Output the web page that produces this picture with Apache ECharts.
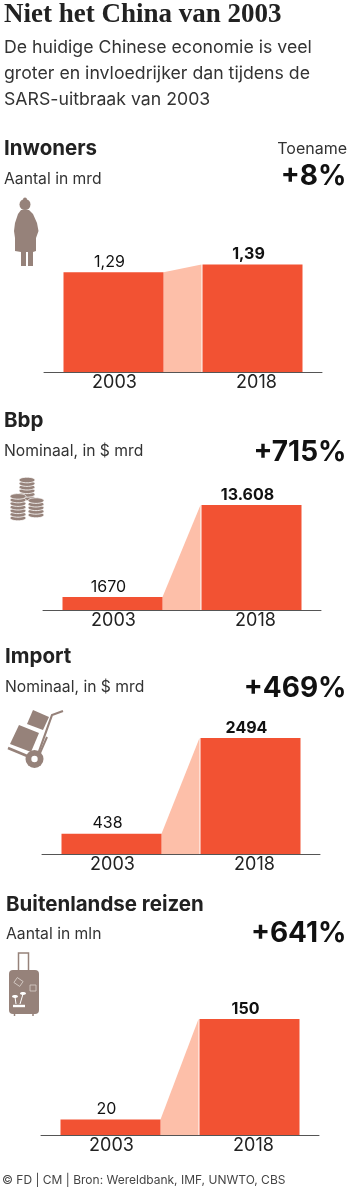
<!DOCTYPE html>
<html>
<head>
<meta charset="utf-8">
<style>
  html, body { margin: 0; padding: 0; background: #fff; }
  #chart { width: 360px; height: 1193px; }
</style>
<script src="https://cdn.jsdelivr.net/npm/echarts@6/dist/echarts.min.js"></script>
</head>
<body>
<div id="chart"></div>
<script>
const years = ['2003', '2018']
const names = ['Inwoners', 'Bbp', 'Import', 'Buitenlandse reizen']
const notes = ['Aantal in mrd', 'Nominaal, in $ mrd', 'Nominaal, in $ mrd', 'Aantal in mln']
const growth = ['+8%', '+715%', '+469%', '+641%']
const values2003 = [1.29, 1670, 438, 20]
const values2018 = [1.39, 13608, 2494, 150]
const labels2003 = ['1,29', '1670', '438', '20']
const labels2018 = ['1,39', '13.608', '2494', '150']

const RED = '#f25233'
const PINK = '#fdbfa9'
const BROWN = '#96827a'
const SANS = 'Inter'
const BAR_W = 100

// layout per panel
const gridLeft = [44, 43, 42, 41]
const gridTop = [264.5, 505, 738, 1019]
const gridBottom = [372, 610, 854, 1135]
const nameY = [155, 427, 663, 911]
const noteY = [184, 456, 692, 939]
const growthY = [185, 461, 697, 942]
const textX = [4, 4, 5, 6]

// y is the baseline, zrender only centres so shift by about a third of the size
function txt(x, y, text, size, weight, family, fill, align) {
  return {
    type: 'text', silent: true,
    style: {
      x, y: y - size * 0.3, text, fill,
      font: weight + ' ' + size + 'px "' + family + '"',
      textAlign: align || 'left', textVerticalAlign: 'middle'
    }
  }
}

const grids = [], xAxes = [], yAxes = [], series = []
const texts = [
  txt(4, 23, 'Niet het China van 2003', 27, 'bold', 'Liberation Serif', '#222'),
  txt(4, 53, 'De huidige Chinese economie is veel', 17.7, 'normal', SANS, '#333'),
  txt(4, 79, 'groter en invloedrijker dan tijdens de', 17.7, 'normal', SANS, '#333'),
  txt(4, 105, 'SARS-uitbraak van 2003', 17.7, 'normal', SANS, '#333'),
  txt(347, 154, 'Toename', 16, 'normal', SANS, '#333', 'right'),
  txt(2, 1184, '© FD | CM | Bron: Wereldbank, IMF, UNWTO, CBS', 12, 'normal', SANS, '#444')
]

names.forEach((name, i) => {
  grids.push({ left: gridLeft[i], width: 278, top: gridTop[i], height: gridBottom[i] - gridTop[i] })
  xAxes.push({
    type: 'category', gridIndex: i, data: years,
    axisTick: { show: false },
    axisLine: { lineStyle: { color: '#555', width: 1 } },
    axisLabel: {
      margin: 2, fontFamily: SANS, fontSize: 18, color: '#222',
      formatter: (v) => v === '2003' ? '{a|' + v + '}' : '{b|' + v + '}',
      rich: {
        a: { padding: [0, 0, 0, 2], fontFamily: SANS, fontSize: 18, color: '#222' },
        b: { padding: [0, 0, 0, 8], fontFamily: SANS, fontSize: 18, color: '#222' }
      }
    }
  })
  yAxes.push({ type: 'value', gridIndex: i, min: 0, max: values2018[i], show: false })

  series.push({
    type: 'bar', xAxisIndex: i, yAxisIndex: i, barWidth: BAR_W, silent: true, animation: false,
    itemStyle: { color: RED },
    data: [
      { value: values2003[i], label: { formatter: labels2003[i], fontWeight: 'normal' } },
      { value: values2018[i], label: { formatter: labels2018[i], fontWeight: 'bold' } }
    ],
    label: { show: true, position: 'top', distance: 2, offset: [-4, 0], fontFamily: SANS, fontSize: 16, color: '#111' }
  })
  series.push({
    type: 'custom', xAxisIndex: i, yAxisIndex: i, silent: true, animation: false, z: 1,
    data: [[0, values2003[i], values2018[i]]],
    renderItem: (params, api) => {
      const a = api.coord([0, api.value(1)])
      const b = api.coord([1, api.value(2)])
      const base = api.coord([0, 0])[1]
      const x0 = a[0] + BAR_W / 2
      const x1 = b[0] - BAR_W / 2 - 1
      return {
        type: 'polygon',
        shape: { points: [[x0, a[1]], [x1, b[1]], [x1, base], [x0, base]] },
        style: { fill: PINK }
      }
    }
  })

  texts.push(txt(textX[i], nameY[i], name, 20.5, 'bold', SANS, '#222'))
  texts.push(txt(textX[i], noteY[i], notes[i], 15.7, 'normal', SANS, '#333'))
  texts.push(txt(346.5, growthY[i], growth[i], 28, 'bold', SANS, '#111', 'right'))
})

// icons
const icons = []
const poly = (points) => ({ type: 'polygon', silent: true, shape: { points }, style: { fill: BROWN } })
const stroke = (points, w, c) => ({ type: 'polyline', silent: true, shape: { points }, style: { stroke: c || BROWN, lineWidth: w, fill: null } })
const circle = (cx, cy, r, c) => ({ type: 'circle', silent: true, shape: { cx, cy, r }, style: { fill: c || BROWN } })
const disc = (cx, cy) => ({ type: 'ellipse', silent: true, shape: { cx, cy, rx: 8, ry: 2.8 }, style: { fill: BROWN, stroke: '#fff', lineWidth: 0.8 } })

// person
icons.push(circle(25, 204.5, 5.5), circle(25, 199.5, 2))
icons.push(poly([[21, 210], [29, 210], [33, 214], [37, 223], [38.5, 231], [36, 238], [36, 251], [33, 252], [33, 266], [28, 266], [28, 252], [26, 252], [26, 266], [21, 266], [21, 252], [15, 251], [15, 238], [14, 231], [15, 223], [18, 214]]))

// coins
const coinStacks = [[27, 498, 6], [36, 515, 5], [18, 518, 7]]
coinStacks.forEach(([cx, bottom, n]) => {
  for (let k = 0; k < n; k++) icons.push(disc(cx, bottom - k * 3.6))
})

// trolley
icons.push(poly([[33, 710], [49, 717], [43, 730], [27, 724]]))
icons.push(poly([[19, 725], [39, 733], [31, 752], [10, 744]]))
icons.push(stroke([[8, 748], [32, 758]], 2.5))
icons.push(stroke([[63, 711], [52, 715], [37, 757]], 2.2))
icons.push(stroke([[47, 737], [40, 753]], 2))
icons.push(circle(34.5, 759, 9), circle(34.5, 759, 3.2, '#fff'))

// suitcase
icons.push(stroke([[18.5, 970], [18.5, 953], [28.5, 953], [28.5, 970]], 1.5))
icons.push({ type: 'rect', silent: true, shape: { x: 9, y: 970, width: 30, height: 44, r: 4 }, style: { fill: BROWN } })
icons.push(stroke([[14.5, 1014], [14.5, 1016]], 1.5), stroke([[33, 1014], [33, 1016]], 1.5))
icons.push({ type: 'rect', silent: true, x: 18.5, y: 982, rotation: -0.6, originX: 0, originY: 0, shape: { x: -3.5, y: -3, width: 7, height: 6 }, style: { fill: null, stroke: '#d9cfca', lineWidth: 0.8 } })
icons.push({ type: 'rect', silent: true, shape: { x: 30, y: 985, width: 6, height: 6 }, style: { fill: null, stroke: '#d9cfca', lineWidth: 0.8 } })
icons.push(stroke([[16, 1004], [15, 997]], 1, '#fff'), stroke([[20, 1004], [23, 994]], 1, '#fff'), stroke([[13, 1006], [25, 1006]], 2.4, '#fff'))
icons.push({ type: 'ellipse', silent: true, shape: { cx: 15, cy: 996.5, rx: 3, ry: 1.4 }, style: { fill: '#fff' } })
icons.push({ type: 'ellipse', silent: true, shape: { cx: 23, cy: 993.5, rx: 3, ry: 1.4 }, style: { fill: '#fff' } })

const chart = echarts.init(document.getElementById('chart'))
chart.setOption({
  animation: false,
  backgroundColor: '#fff',
  grid: grids,
  xAxis: xAxes,
  yAxis: yAxes,
  series,
  graphic: { elements: texts.concat(icons) }
})
</script>
</body>
</html>
